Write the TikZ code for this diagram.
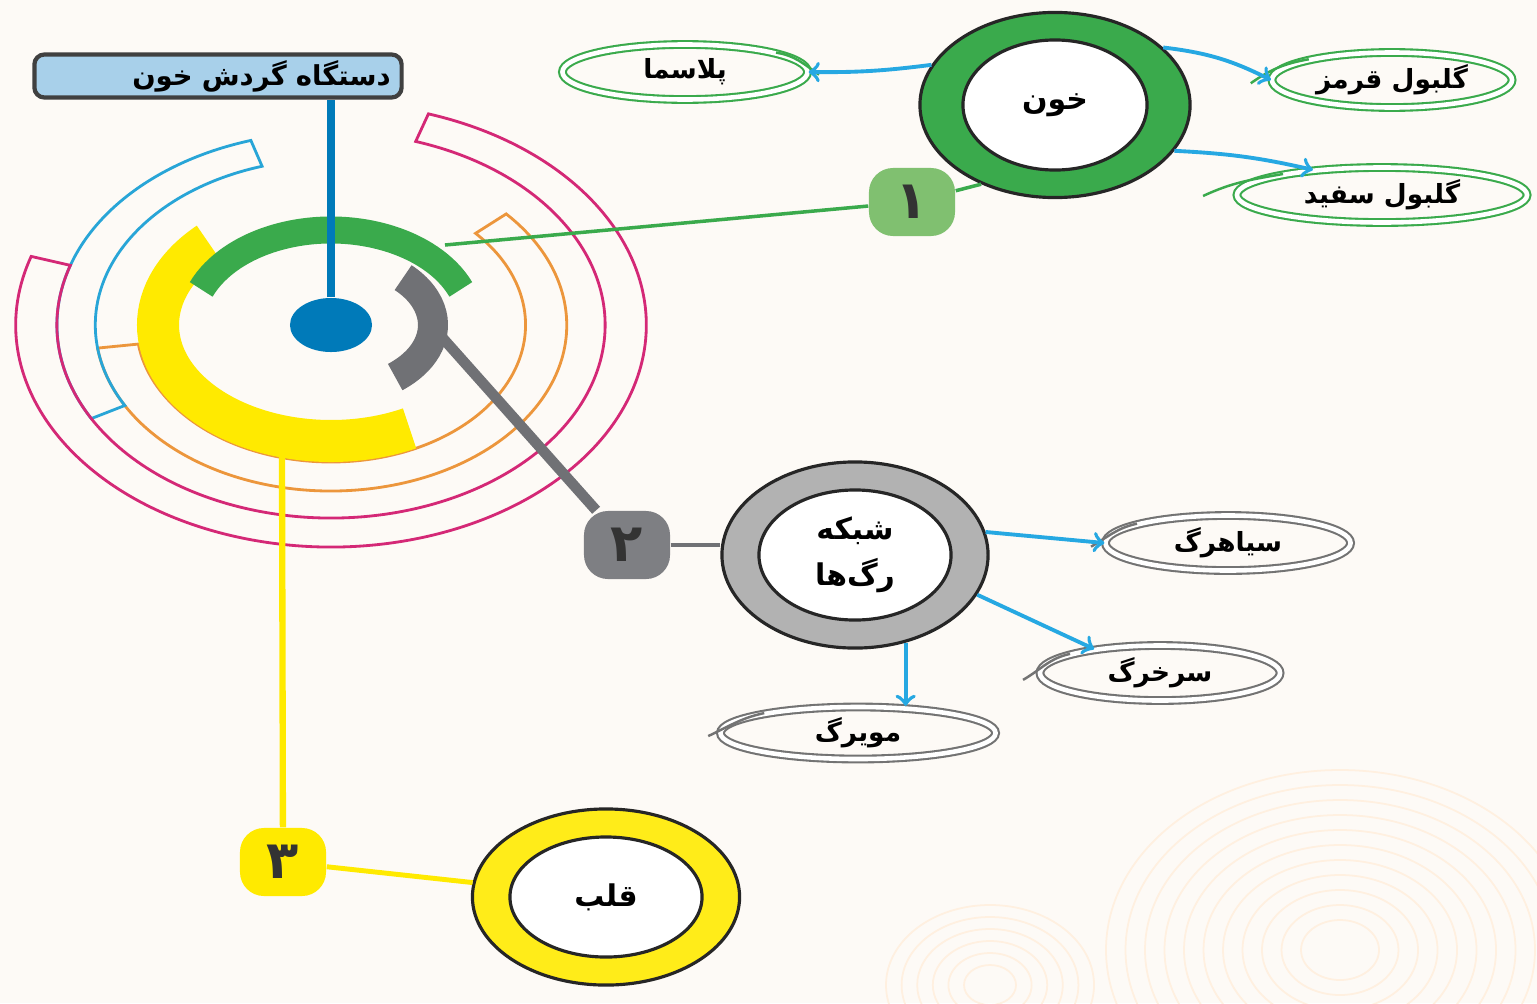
\documentclass[tikz,border=0pt]{standalone}
\usepackage{fontspec}
\usepackage{tikz}
\usetikzlibrary{shapes, backgrounds, calc, arrows}
\TeXXeTstate=1
\newfontfamily\fa[Script=Arabic]{DejaVu Sans}
\definecolor{paper}{RGB}{253,250,246}
\definecolor{hubblue}{RGB}{0,122,185}
\definecolor{titleblue}{RGB}{168,208,234}
\definecolor{ringgreen}{RGB}{58,170,76}
\definecolor{badgegreen}{RGB}{128,192,112}
\definecolor{ringgray}{RGB}{112,113,117}
\definecolor{ringyellow}{RGB}{255,234,0}
\definecolor{bandorange}{RGB}{236,150,60}
\definecolor{bandblue}{RGB}{40,165,215}
\definecolor{bandpink}{RGB}{212,40,118}
\definecolor{arrowcyan}{RGB}{38,168,226}
% one hollow band round the hub: colour, start, end, inner and outer y radius
\newcommand{\band}[5]{%
  \draw[draw=#1, line width=0.8pt]
    ($(hub)+(#2:{1.42*#5} and #5)$) arc[start angle=#2, end angle=#3, x radius=1.42*#5, y radius=#5]
    -- ($(hub)+(#3:{1.42*#4} and #4)$) arc[start angle=#3, end angle=#2, x radius=1.42*#4, y radius=#4]
    -- cycle;}

\begin{document}
\begin{tikzpicture}[x=0.01cm, y=0.01cm,
  title/.style={rectangle, rounded corners=1mm, draw=black!75, line width=1.2pt, fill=titleblue,
    minimum width=3.67cm, minimum height=0.43cm, text width=3.45cm, align=right, inner sep=0pt,
    font=\fa\bfseries\fontsize{7.8}{9}\selectfont},
  ring/.style={ellipse, draw=black!85, line width=0.9pt, fill=#1, inner sep=0pt},
  hole/.style={ellipse, draw=black!85, line width=0.9pt, fill=white, inner sep=0pt, align=center,
    font=\fa\bfseries\fontsize{8.5}{13}\selectfont},
  badge/.style={rectangle, rounded corners=2.4mm, fill=#1, minimum width=0.86cm, minimum height=0.68cm,
    inner sep=0pt, text=black!80, font=\fa\bfseries\fontsize{15}{15}\selectfont},
  tag/.style={ellipse, draw=#1, line width=0.6pt, double=white, double distance=1.3pt,
    minimum height=0.55cm, inner sep=0pt, font=\fa\bfseries\fontsize{7.5}{9}\selectfont},
  tail/.style={draw=#1, line width=0.7pt},
  flow/.style={->, draw=arrowcyan, line width=1.1pt},
  swirl/.style={draw=orange!12, line width=0.5pt}
  ]
  \useasboundingbox (0,0) rectangle (1537,-1003);
  \fill[paper] (0,0) rectangle (1537,-1003);
  \begin{scope}
    \clip (0,0) rectangle (1537,-1003);
    \foreach \r in {30,45,...,180}
      \draw[swirl] (1340,-950) ellipse[x radius=1.3*\r, y radius=\r];
    \foreach \r in {20,32,...,80}
      \draw[swirl] (990,-985) ellipse[x radius=1.3*\r, y radius=\r];
  \end{scope}

  % hub and rings
  \node[ellipse, fill=hubblue, minimum width=0.82cm, minimum height=0.54cm] (hub) at (331,-325) {};
  \band{bandorange}{188}{402}{137}{166}
  \band{bandblue}{107}{209}{166}{193}
  \band{bandpink}{162}{432}{193}{222}
  \draw[ringyellow, line width=0.42cm] ($(hub)+(135:173 and 116)$) arc[start angle=135, end angle=297, x radius=173, y radius=116];
  \draw[ringgreen, line width=0.27cm] ($(hub)+(22:140 and 95)$) arc[start angle=22, end angle=158, x radius=140, y radius=95];
  \draw[ringgray, line width=0.30cm] ($(hub)+(-51:102 and 67)$) arc[start angle=-51, end angle=45, x radius=102, y radius=67];
  \coordinate (greenend) at (445,-245);
  \coordinate (grayend) at (440,-335);
  \coordinate (yellowend) at (282,-455);

  \node[title] (title) at (218,-76) {\beginR دستگاه گردش خون\endR};
  \draw[hubblue, line width=2pt] (hub) -- (hub |- title.south);

  % badges
  \node[badge=badgegreen] (one) at (912,-202) {۱};
  \node[badge=ringgray!90] (two) at (627,-545) {۲};
  \node[badge=ringyellow] (three) at (283,-862) {۳};
  \draw[ringgreen, line width=1pt] (greenend) -- (one);
  \draw[ringgray, line width=3pt] (grayend) -- (two);
  \draw[ringyellow, line width=1.8pt] (yellowend) -- (three);

  % blood
  \node[ring=ringgreen, minimum width=2.7cm, minimum height=1.85cm] (blood) at (1055,-105) {};
  \node[hole, minimum width=1.84cm, minimum height=1.3cm] (bloodin) at (blood) {\beginR خون\endR};
  \node[tag=ringgreen, minimum width=2.45cm] (plasma) at (685,-72) {\beginR پلاسما\endR};
  \node[tag=ringgreen, minimum width=2.4cm] (redcell) at (1392,-80) {\beginR گلبول قرمز\endR};
  \node[tag=ringgreen, minimum width=2.9cm] (whitecell) at (1382,-195) {\beginR گلبول سفید\endR};
  \draw[tail=ringgreen] (plasma.12) to[out=-8, in=145] ++(43,-22);
  \draw[tail=ringgreen] (redcell.166) to[out=190, in=35] ++(-58,-24);
  \draw[tail=ringgreen] (whitecell.168) to[out=190, in=25] ++(-80,-22);
  \draw[ringgreen, line width=1pt] (one) -- (blood.227);
  \draw[flow] (blood.162) to[bend left=4] (plasma.east);
  \draw[flow] (blood.28) to[bend left=10] (redcell.west);
  \draw[flow] (blood.-21) to[bend left=5] (whitecell.160);

  % vessels
  \node[ring=black!30, minimum width=2.66cm, minimum height=1.86cm] (vessels) at (855,-555) {};
  \node[hole, minimum width=1.92cm, minimum height=1.3cm] (vesselsin) at (vessels) {\beginR شبکه\endR\\\beginR رگ‌ها\endR};
  \node[tag=black!55, minimum width=2.45cm] (vein) at (1228,-543) {\beginR سیاهرگ\endR};
  \node[tag=black!55, minimum width=2.4cm] (artery) at (1160,-673) {\beginR سرخرگ\endR};
  \node[tag=black!55, minimum width=2.75cm, minimum height=0.52cm] (capillary) at (858,-733) {\beginR مویرگ\endR};
  \draw[tail=black!55] (vein.168) to[out=192, in=30] ++(-46,-23);
  \draw[tail=black!55] (artery.168) to[out=192, in=30] ++(-47,-26);
  \draw[tail=black!55] (capillary.168) to[out=192, in=25] ++(-56,-23);
  \draw[ringgray, line width=1.2pt] (two) -- (two -| vessels.west);
  \draw[flow] (vessels.10) -- (vein.west);
  \draw[flow] (vessels.-18) -- (artery.160);
  \draw[flow] (vessels.-60) -- (vessels.-60 |- capillary.north);

  % heart
  \node[ring=ringyellow!90, minimum width=2.67cm, minimum height=1.76cm] (heart) at (606,-897) {};
  \node[hole, minimum width=1.92cm, minimum height=1.2cm] (heartin) at (heart) {\beginR قلب\endR};
  \draw[ringyellow, line width=1.4pt] (three) -- (heart);
\end{tikzpicture}
\end{document}
